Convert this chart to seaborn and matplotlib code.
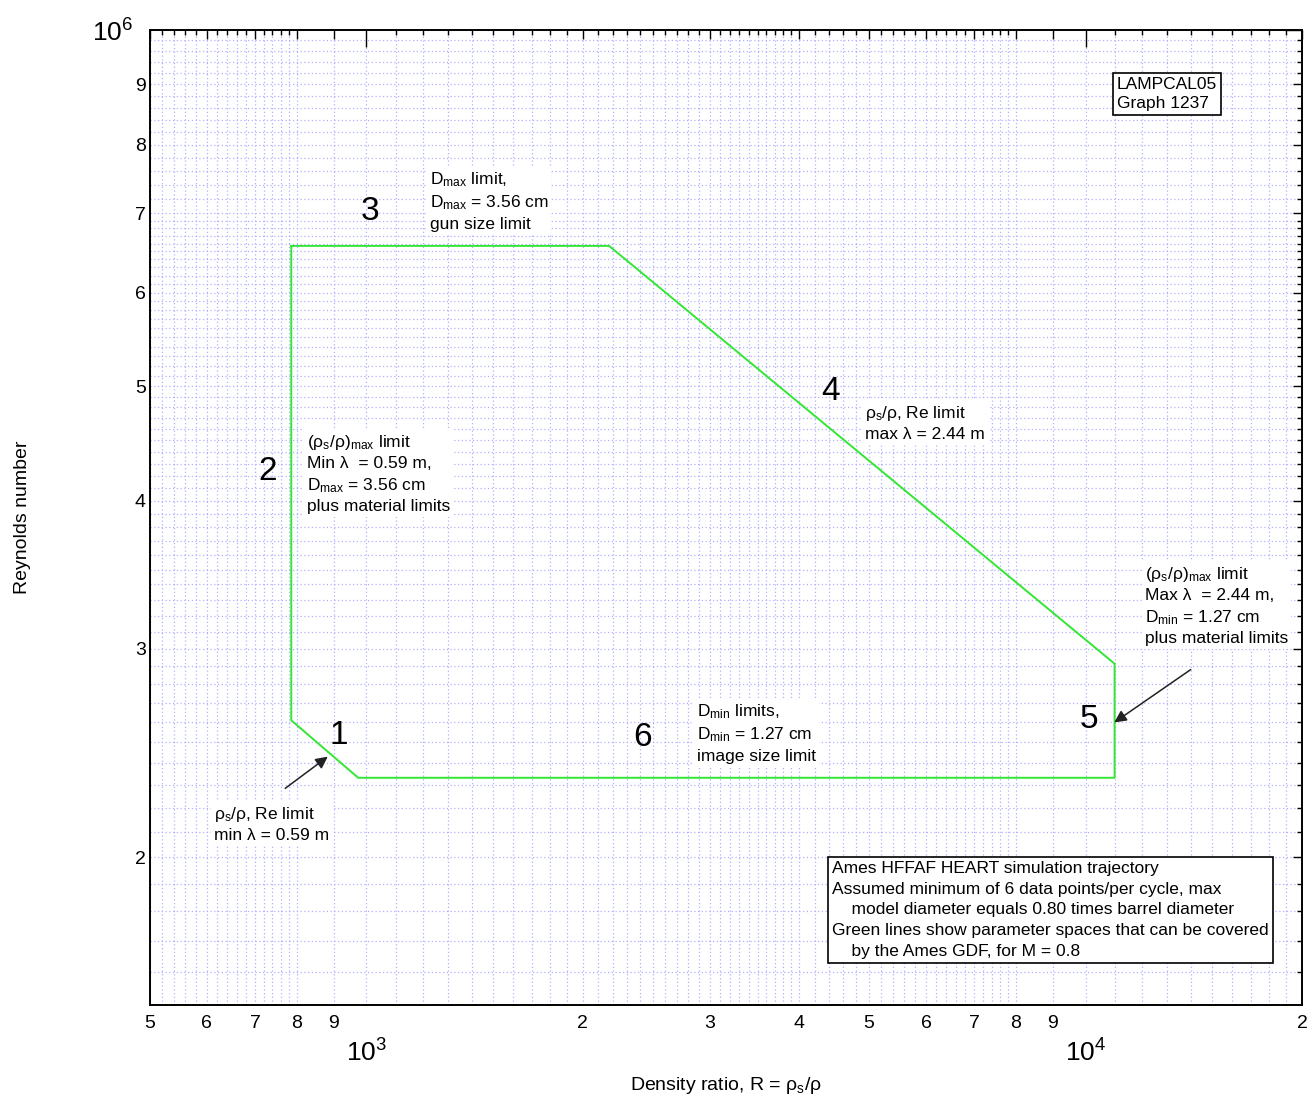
import numpy as np
import pandas as pd
import seaborn as sns
import matplotlib.pyplot as plt
from matplotlib.ticker import FixedLocator, FuncFormatter

# green boundary of the parameter space covered by the Ames GDF (closed polygon)
density_ratio = [786, 2175, 10975, 10975, 974, 786, 786]
reynolds = [6.57e5, 6.57e5, 2.914e5, 2.334e5, 2.334e5, 2.61e5, 6.57e5]

x_range = (500, 20000)
y_range = (1.5e5, 1e6)

sns.set_style("white")
plt.rcParams['font.family'] = ['Liberation Sans', 'DejaVu Sans']
plt.rcParams['mathtext.default'] = 'regular'
plt.rcParams['text.color'] = 'black'
plt.rcParams['axes.labelcolor'] = 'black'
plt.rcParams['xtick.color'] = 'black'
plt.rcParams['ytick.color'] = 'black'

fig = plt.figure(figsize=(13.12, 11.03), dpi=100)
ax = fig.add_axes([150 / 1312, 1 - 1005 / 1103, 1152 / 1312, 975 / 1103])
ax.set_xscale('log')
ax.set_yscale('log')

df = pd.DataFrame({'R': density_ratio, 'Re': reynolds})
sns.lineplot(data=df, x='R', y='Re', sort=False, estimator=None,
             color='#33e633', lw=1.4, ax=ax)
ax.set_xlim(*x_range)
ax.set_ylim(*y_range)


def log_ticks(lo, hi, px_per_dec):
    """integer ticks, and finer sub ticks where there is room (Igor-like)"""
    ints, subs = [], []
    for e in range(int(np.floor(np.log10(lo))), int(np.ceil(np.log10(hi))) + 1):
        d = 10.0 ** e
        for k in range(1, 10):
            a = k * d
            if 2 <= k and lo * 0.999 <= a <= hi * 1.001:
                ints.append(a)
            length = np.log10((k + 1) / k) * px_per_dec
            if length / 10 >= 7.8:
                step = 0.1
            elif length / 5 >= 7.8:
                step = 0.2
            else:
                continue
            n = int(round(1 / step))
            for j in range(1, n):
                v = (k + j * step) * d
                if lo * 1.001 < v < hi * 0.999:
                    subs.append(v)
    ints = sorted(set(round(v, 6) for v in ints))
    return ints, subs


x_ints, x_subs = log_ticks(*x_range, 717)
y_ints, y_subs = log_ticks(*y_range, 1193)


def minor_label(v, pos):
    m = v / 10 ** np.floor(np.log10(v) + 1e-9)
    if abs(m - round(m)) < 1e-6 and round(m) != 1:
        return '%d' % round(m)
    return ''


def major_label(v, pos):
    return r'$\mathregular{10^{%d}}$' % round(np.log10(v))


for axis, ints, subs in [(ax.xaxis, x_ints, x_subs), (ax.yaxis, y_ints, y_subs)]:
    axis.set_major_locator(FixedLocator([1e3, 1e4, 1e5, 1e6]))
    axis.set_minor_locator(FixedLocator(sorted(ints + subs)))
    axis.set_major_formatter(FuncFormatter(major_label))
    axis.set_minor_formatter(FuncFormatter(minor_label))

ax.tick_params(which='both', direction='in', top=True, right=True,
               color='black', labelcolor='black', width=1.0)
ax.tick_params(which='major', length=12)
ax.tick_params(axis='x', which='minor', labelsize=14, pad=7)
ax.tick_params(axis='x', which='major', labelsize=19, pad=25)
ax.tick_params(axis='y', which='minor', labelsize=14, pad=3)
ax.tick_params(axis='y', which='major', labelsize=19, pad=12)

# integer ticks longer than the fine sub ticks
for axis, ints in [(ax.xaxis, x_ints), (ax.yaxis, y_ints)]:
    locs = axis.get_minorticklocs()
    for loc, tick in zip(locs, axis.get_minor_ticks(len(locs))):
        size = 6.5 if any(abs(loc - v) / v < 1e-6 for v in ints) else 3.6
        tick.tick1line.set_markersize(size)
        tick.tick2line.set_markersize(size)

ax.grid(which='both', color='#b0b0ff', linestyle=(0, (1, 2)), linewidth=0.9)
for s in ax.spines.values():
    s.set_color('black')
    s.set_linewidth(1.4)


def fx(px):
    return (px - 150) / 1152


def fy(py):
    return (1005 - py) / 975


ax.set_ylabel('Reynolds number', fontsize=14)
ax.yaxis.set_label_coords(fx(31), 0.5)
ax.set_xlabel(r'Density ratio, R = $\mathregular{\rho_s/\rho}$', fontsize=14)
ax.xaxis.set_label_coords(0.5, fy(1086))
ax.xaxis.label.set_va('center')

tr = ax.transAxes
white = dict(facecolor='white', edgecolor='none', pad=2)
fs = 12.5

for lab, (px, py) in {'1': (339, 735), '2': (268, 472), '3': (370, 212),
                      '4': (831, 392), '5': (1089, 720), '6': (643, 738)}.items():
    ax.text(fx(px), fy(py), lab, transform=tr, fontsize=24, ha='center', va='center')

notes = [
    (430, 170, '$D_{max}$ limit,\n$D_{max}$ = 3.56 cm\ngun size limit'),
    (307, 433, '$(\\rho_s/\\rho)_{max}$ limit\nMin λ  = 0.59 m,\n$D_{max}$ = 3.56 cm\nplus material limits'),
    (865, 404, '$\\rho_s/\\rho$, Re limit\nmax λ = 2.44 m'),
    (1145, 565, '$(\\rho_s/\\rho)_{max}$ limit\nMax λ  = 2.44 m,\n$D_{min}$ = 1.27 cm\nplus material limits'),
    (214, 805, '$\\rho_s/\\rho$, Re limit\nmin λ = 0.59 m'),
    (697, 702, '$D_{min}$ limits,\n$D_{min}$ = 1.27 cm\nimage size limit'),
]
for px, py, txt in notes:
    ax.text(fx(px), fy(py), txt, transform=tr, fontsize=fs, ha='left', va='top',
            linespacing=1.35, bbox=white)

ax.text(fx(1117), fy(77), 'LAMPCAL05\nGraph 1237', transform=tr, fontsize=fs,
        ha='left', va='top', linespacing=1.35,
        bbox=dict(facecolor='white', edgecolor='black', lw=1.2, pad=3))
ax.text(fx(832), fy(861),
        'Ames HFFAF HEART simulation trajectory\n'
        'Assumed minimum of 6 data points/per cycle, max\n'
        '    model diameter equals 0.80 times barrel diameter\n'
        'Green lines show parameter spaces that can be covered\n'
        '    by the Ames GDF, for M = 0.8',
        transform=tr, fontsize=fs, ha='left', va='top', linespacing=1.47,
        bbox=dict(facecolor='white', edgecolor='black', lw=1.2, pad=3))

arrow = dict(arrowstyle='-|>', color='#222222', lw=1.1, mutation_scale=18)
ax.annotate('', xy=(fx(330), fy(755)), xytext=(fx(283), fy(790)),
            xycoords=tr, textcoords=tr, arrowprops=arrow)
ax.annotate('', xy=(fx(1112), fy(724)), xytext=(fx(1193), fy(668)),
            xycoords=tr, textcoords=tr, arrowprops=arrow)

fig.savefig('out.png', dpi=100)
